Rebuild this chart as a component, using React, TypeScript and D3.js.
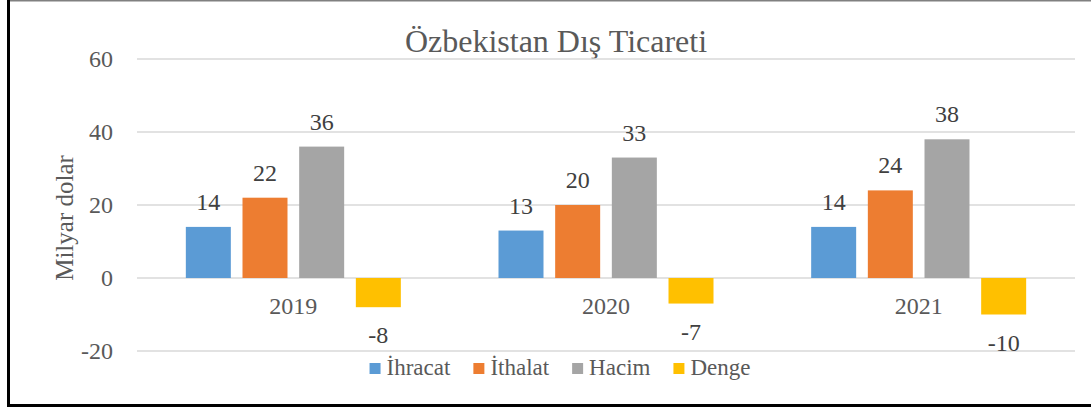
import React from "react";
import * as d3 from "d3";

const categories = ["2019", "2020", "2021"];
const seriesNames = ["İhracat", "İthalat", "Hacim", "Denge"];
const ihracat = [14, 13, 14];
const ithalat = [22, 20, 24];
const hacim = [36, 33, 38];
const denge = [-8, -7, -10];
const yTicks = [-20, 0, 20, 40, 60];
const colors = ["#5B9BD5", "#ED7D31", "#A5A5A5", "#FFC000"];
const title = "Özbekistan Dış Ticareti";
const yLabel = "Milyar dolar";

const W = 1091;
const H = 411;
const FONT = "Liberation Serif, Times New Roman, serif";

function measure(text: string, size: number): number {
  if (typeof document === "undefined") return text.length * size * 0.45;
  const c = document.createElement("canvas");
  const ctx = c.getContext("2d");
  if (!ctx) return text.length * size * 0.45;
  ctx.font = `${size}px "Liberation Serif"`;
  return ctx.measureText(text).width;
}

export default function App() {
  const seriesValues = [ihracat, ithalat, hacim, denge];
  const plotLeft = 137;
  const plotRight = 1075;
  const y = d3.scaleLinear().domain([-20, 60]).range([351, 59]);
  const x0 = d3.scaleBand<string>().domain(categories).range([plotLeft, plotRight]).padding(0);
  const groupW = 215;
  const off = (x0.bandwidth() - groupW) / 2;
  const x1 = d3
    .scaleBand<string>()
    .domain(seriesNames)
    .range([off, off + groupW])
    .paddingInner(0.206)
    .paddingOuter(0);

  const legendSize = 23;
  const items = seriesNames.map((n) => ({ n, w: measure(n, legendSize) }));
  const sq = 11;
  const gapSqText = 6;
  const gapItems = 23;
  const totalW = items.reduce((a, it) => a + sq + gapSqText + it.w, 0) + gapItems * (items.length - 1);
  let lx = 560 - totalW / 2;
  const legendItems = items.map((it, i) => {
    const g = { ...it, x: lx, i };
    lx += sq + gapSqText + it.w + gapItems;
    return g;
  });

  return (
    <>
      <style>{`body{margin:0}`}</style>
      <svg width={W} height={H} style={{ display: "block" }}>
        <rect x={0} y={0} width={W} height={H} fill="#fff" />
        {/* frame */}
        <line x1={7} x2={W} y1={0.75} y2={0.75} stroke="#808080" strokeWidth={1.5} />
        <line x1={8.5} x2={8.5} y1={0} y2={407} stroke="#000" strokeWidth={3} />
        <line x1={7} x2={W} y1={405.5} y2={405.5} stroke="#000" strokeWidth={3} />

        {/* title */}
        <text x={556} y={52} textAnchor="middle" fontFamily={FONT} fontSize={32} fill="#595959">
          {title}
        </text>

        {/* gridlines & ticks */}
        {yTicks.map((t) => (
          <g key={t}>
            <line x1={plotLeft} x2={plotRight} y1={y(t)} y2={y(t)} stroke="#d9d9d9" strokeWidth={1.5} />
            <text x={113} y={y(t) + 8} textAnchor="end" fontFamily={FONT} fontSize={24} fill="#595959">
              {t}
            </text>
          </g>
        ))}

        {/* y label */}
        <text
          transform={`translate(73,218) rotate(-90)`}
          textAnchor="middle"
          fontFamily={FONT}
          fontSize={25}
          fill="#595959"
        >
          {yLabel}
        </text>

        {/* bars */}
        {categories.map((c, ci) => (
          <g key={c} transform={`translate(${x0(c)},0)`}>
            {seriesNames.map((s, si) => {
              const v = seriesValues[si][ci];
              const top = y(Math.max(0, v));
              const bot = y(Math.min(0, v));
              const bx = x1(s) as number;
              const cx = bx + x1.bandwidth() / 2;
              return (
                <g key={s}>
                  <rect x={bx} y={top} width={x1.bandwidth()} height={bot - top} fill={colors[si]} />
                  <text
                    x={cx}
                    y={v >= 0 ? top - 17 : bot + 36}
                    textAnchor="middle"
                    fontFamily={FONT}
                    fontSize={24}
                    fill="#404040"
                  >
                    {v}
                  </text>
                </g>
              );
            })}
            <text x={x0.bandwidth() / 2} y={314} textAnchor="middle" fontFamily={FONT} fontSize={24} fill="#595959">
              {c}
            </text>
          </g>
        ))}

        {/* legend */}
        {legendItems.map((it) => (
          <g key={it.n}>
            <rect x={it.x} y={363} width={sq} height={sq} fill={colors[it.i]} />
            <text x={it.x + sq + gapSqText} y={375} fontFamily={FONT} fontSize={legendSize} fill="#595959">
              {it.n}
            </text>
          </g>
        ))}
      </svg>
    </>
  );
}
